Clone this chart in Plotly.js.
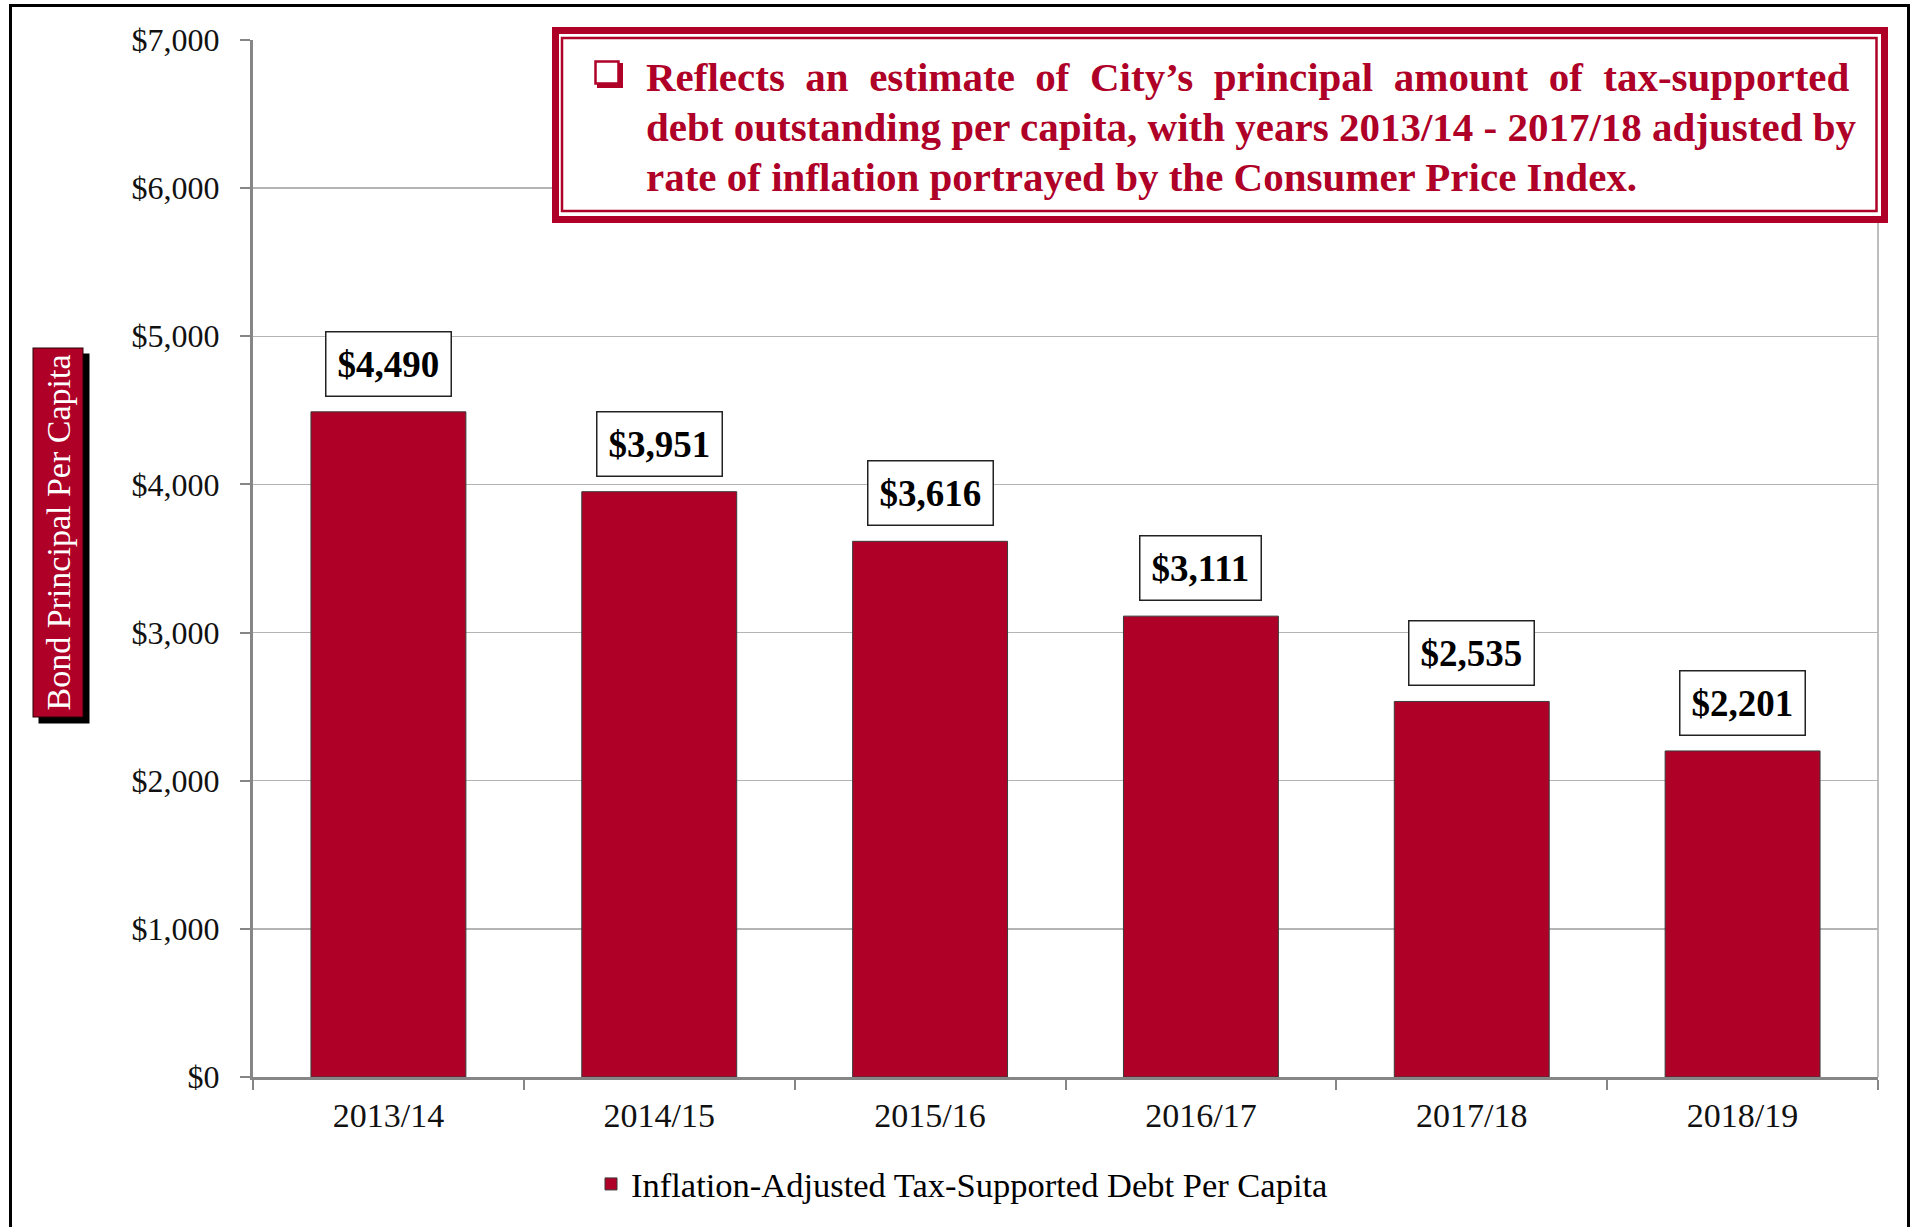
<!DOCTYPE html>
<html>
<head>
<meta charset="utf-8">
<script src="https://cdn.plot.ly/plotly-3.0.1.min.js"></script>
<style>
  html, body { margin: 0; padding: 0; background: #fff; }
  #chart { width: 1911px; height: 1227px; }
</style>
</head>
<body>
<div id="chart"></div>
<script>
// ---- Data ----
const years = ['2013/14', '2014/15', '2015/16', '2016/17', '2017/18', '2018/19'];
const debtPerCapita = [4490, 3951, 3616, 3111, 2535, 2201];
const seriesName = 'Inflation-Adjusted Tax-Supported Debt Per Capita';
const yAxisTitle = 'Bond Principal Per Capita';
const noteLines = [
  'Reflects\u00A0\u00A0an\u00A0\u00A0estimate\u00A0\u00A0of\u00A0\u00A0City\u2019s\u00A0\u00A0principal\u00A0\u00A0amount\u00A0\u00A0of\u00A0\u00A0tax-supported',
  'debt outstanding per capita, with years 2013/14 - 2017/18 adjusted by',
  'rate of inflation portrayed by the Consumer Price Index.'
];

// ---- Style ----
const RED = '#AF0027';
const SERIF = '"Liberation Serif", "Times New Roman", serif';

// plot-area geometry (pixels) used to place decorations in paper units
const W = 1911, H = 1227;
const L = 253, R = 1878, T = 40, B = 1077;
const px = x => (x - L) / (R - L);
const py = y => (B - y) / (B - T);

const fmt = v => '$' + v.toLocaleString('en-US');

const trace = {
  type: 'bar',
  x: years,
  y: debtPerCapita,
  name: seriesName,
  marker: { color: RED, line: { color: '#3a3a3a', width: 1 } },
  hoverinfo: 'x+y'
};

const annotations = [];

// value labels
years.forEach((yr, i) => {
  annotations.push({
    x: yr, y: debtPerCapita[i], xref: 'x', yref: 'y',
    text: '<b>' + fmt(debtPerCapita[i]) + '</b>',
    showarrow: false, yanchor: 'bottom', yshift: 15,
    font: { family: SERIF, size: 37, color: '#000' },
    bgcolor: '#fff', bordercolor: '#222', borderwidth: 1.5, borderpad: 11
  });
});

// y-axis title with shadow
annotations.push({
  xref: 'paper', yref: 'paper', x: px(57.5), y: py(533),
  xanchor: 'center', yanchor: 'middle', textangle: -90,
  text: yAxisTitle, showarrow: false, xshift: 6, yshift: -6,
  font: { family: SERIF, size: 34, color: '#000' },
  bgcolor: '#000', bordercolor: '#000', borderwidth: 1, borderpad: 6
});
annotations.push({
  xref: 'paper', yref: 'paper', x: px(57.5), y: py(533),
  xanchor: 'center', yanchor: 'middle', textangle: -90,
  text: yAxisTitle, showarrow: false,
  font: { family: SERIF, size: 34, color: '#fff' },
  bgcolor: RED, bordercolor: '#2a0008', borderwidth: 1, borderpad: 6
});

// note text, one annotation per line
const noteY = [77, 127, 177];
noteLines.forEach((ln, i) => {
  annotations.push({
    xref: 'paper', yref: 'paper', x: px(644), y: py(noteY[i]),
    xanchor: 'left', yanchor: 'middle', align: 'left', showarrow: false,
    text: '<b>' + ln + '</b>',
    font: { family: SERIF, size: 41, color: RED }
  });
});

const shapes = [
  // outer chart frame
  { type: 'rect', xref: 'paper', yref: 'paper',
    x0: px(10.5), x1: px(1908.5), y0: py(1245), y1: py(5.5),
    line: { color: '#000', width: 3 }, fillcolor: 'rgba(0,0,0,0)', layer: 'above' },
  // right edge of plot area
  { type: 'line', xref: 'paper', yref: 'paper', x0: 1, x1: 1, y0: 0, y1: 1,
    line: { color: '#a8a8a8', width: 1.5 }, layer: 'below' },
  // note box outer
  { type: 'rect', xref: 'paper', yref: 'paper',
    x0: px(555.5), x1: px(1884.5), y0: py(219.5), y1: py(30.5),
    line: { color: RED, width: 7 }, fillcolor: '#fff', layer: 'above' },
  // note box inner line
  { type: 'rect', xref: 'paper', yref: 'paper',
    x0: px(562), x1: px(1876.5), y0: py(211), y1: py(38),
    line: { color: RED, width: 2.5 }, fillcolor: 'rgba(0,0,0,0)', layer: 'above' },
  // checkbox bullet: shadow then box
  { type: 'rect', xref: 'paper', yref: 'paper',
    x0: px(597), x1: px(623), y0: py(88), y1: py(63),
    line: { color: RED, width: 0 }, fillcolor: RED, layer: 'above' },
  { type: 'rect', xref: 'paper', yref: 'paper',
    x0: px(595.5), x1: px(618.5), y0: py(83.5), y1: py(61.5),
    line: { color: RED, width: 2.5 }, fillcolor: '#fff', layer: 'above' }
];

const layout = {
  width: W, height: H,
  margin: { l: L, r: W - R, t: T, b: H - B },
  paper_bgcolor: '#fff', plot_bgcolor: '#fff',
  font: { family: SERIF, color: '#111' },
  bargap: 0.428,
  showlegend: true,
  legend: {
    orientation: 'h', xref: 'container', yref: 'container',
    x: 591 / W, xanchor: 'left', y: (H - 1184) / H, yanchor: 'middle',
    font: { family: SERIF, size: 34.5, color: '#000' },
    bgcolor: 'rgba(0,0,0,0)'
  },
  xaxis: {
    type: 'category',
    showline: true, linecolor: '#868686', linewidth: 3,
    ticks: 'outside', tickson: 'boundaries', ticklen: 10, tickwidth: 2, tickcolor: '#868686',
    tickfont: { family: SERIF, size: 34, color: '#111' },
    ticklabelstandoff: 6,
    showgrid: false, zeroline: false
  },
  yaxis: {
    range: [0, 7000], tick0: 0, dtick: 1000,
    tickprefix: '$', tickformat: ',d',
    showline: true, linecolor: '#868686', linewidth: 3,
    ticks: 'outside', ticklen: 10, tickwidth: 2, tickcolor: '#868686',
    tickfont: { family: SERIF, size: 32, color: '#111' },
    ticklabelstandoff: 14,
    showgrid: true, gridcolor: '#b4b4b4', gridwidth: 1.3,
    zeroline: false
  },
  annotations: annotations,
  shapes: shapes
};

Plotly.newPlot('chart', [trace], layout, { displayModeBar: false, staticPlot: true });
</script>
</body>
</html>
